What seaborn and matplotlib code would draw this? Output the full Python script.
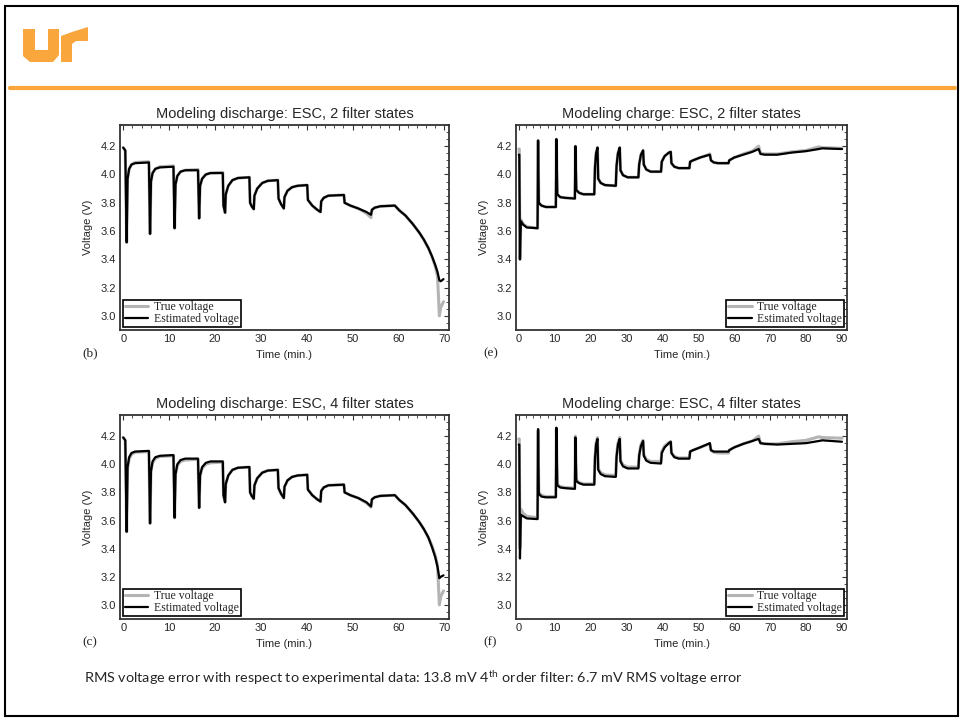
"""ESC cell model: discharge / charge voltage, true vs estimated (slide recreation)"""

import pandas as pd
import seaborn as sns
import matplotlib.pyplot as plt
from matplotlib.patches import Polygon, Rectangle
from matplotlib.lines import Line2D
from matplotlib.ticker import MultipleLocator

# ---- discharge test, panels (b) and (c) ----
dis_time = [0.0, 0.45, 0.75, 0.95, 1.3, 1.8, 2.6, 5.6,
            5.85, 6.05, 6.4, 7.0, 8.0, 10.95,
            11.2, 11.4, 11.8, 12.5, 13.5, 16.3,
            16.55, 16.75, 17.2, 18.0, 19.0, 21.7,
            21.85, 22.2, 22.35, 22.9, 23.8, 25.0, 27.5,
            27.65, 28.0, 28.45, 28.6, 29.2, 30.3, 31.5, 33.7,
            33.85, 34.4, 35.0, 35.15, 35.8, 36.8, 38.0, 40.1,
            40.25, 41.2, 42.3, 43.0, 43.15, 43.7, 44.7, 48.1,
            48.25, 49.5, 51.2, 53.0, 54.0, 54.2, 54.8, 56.0, 59.2,
            60.2, 61.5, 63.1, 64.5, 65.5, 66.5, 67.3, 68.0, 68.5,
            68.9, 69.2, 69.8]
dis_true = [4.19, 4.17, 3.52, 3.97, 4.04, 4.07, 4.085, 4.09,
            3.58, 3.95, 4.01, 4.04, 4.055, 4.06,
            3.62, 3.93, 3.99, 4.02, 4.03, 4.035,
            3.69, 3.92, 3.97, 4.00, 4.01, 4.015,
            3.78, 3.73, 3.86, 3.92, 3.96, 3.975, 3.98,
            3.80, 3.775, 3.755, 3.85, 3.90, 3.94, 3.955, 3.96,
            3.83, 3.79, 3.76, 3.84, 3.885, 3.91, 3.92, 3.925,
            3.82, 3.78, 3.75, 3.735, 3.81, 3.835, 3.85, 3.855,
            3.80, 3.78, 3.76, 3.725, 3.695, 3.75, 3.765, 3.775, 3.78,
            3.745, 3.71, 3.65, 3.59, 3.54, 3.48, 3.42, 3.35, 3.28,
            3.00, 3.06, 3.10]
dis_est2 = [4.19, 4.17, 3.52, 3.97, 4.04, 4.07, 4.08, 4.085,
            3.58, 3.95, 4.01, 4.04, 4.05, 4.055,
            3.62, 3.93, 3.99, 4.02, 4.03, 4.03,
            3.69, 3.92, 3.97, 4.00, 4.01, 4.01,
            3.78, 3.73, 3.86, 3.92, 3.96, 3.975, 3.98,
            3.80, 3.775, 3.755, 3.85, 3.90, 3.94, 3.955, 3.96,
            3.83, 3.79, 3.76, 3.84, 3.885, 3.91, 3.92, 3.925,
            3.82, 3.78, 3.75, 3.735, 3.81, 3.835, 3.85, 3.855,
            3.80, 3.78, 3.76, 3.735, 3.715, 3.75, 3.765, 3.775, 3.78,
            3.745, 3.71, 3.65, 3.59, 3.54, 3.48, 3.42, 3.36, 3.31,
            3.25, 3.245, 3.26]
dis_est4 = [4.19, 4.17, 3.52, 3.98, 4.05, 4.08, 4.09, 4.095,
            3.58, 3.95, 4.02, 4.05, 4.06, 4.065,
            3.62, 3.93, 4.00, 4.03, 4.04, 4.04,
            3.69, 3.92, 3.98, 4.01, 4.02, 4.02,
            3.78, 3.73, 3.86, 3.92, 3.96, 3.975, 3.98,
            3.80, 3.775, 3.755, 3.85, 3.90, 3.94, 3.955, 3.96,
            3.83, 3.79, 3.76, 3.84, 3.885, 3.91, 3.92, 3.925,
            3.82, 3.78, 3.75, 3.735, 3.81, 3.835, 3.85, 3.855,
            3.80, 3.78, 3.76, 3.73, 3.70, 3.75, 3.765, 3.775, 3.78,
            3.745, 3.71, 3.65, 3.59, 3.54, 3.48, 3.41, 3.34, 3.27,
            3.19, 3.20, 3.21]

# ---- charge test, panels (e) and (f) ----
chg_time = [0.0, 0.12, 0.3, 0.55, 1.2, 2.2, 5.2,
            5.35, 5.55, 6.3, 7.5, 10.3,
            10.45, 10.7, 11.5, 12.8, 15.6,
            15.75, 16.0, 16.8, 18.0, 21.0,
            21.2, 21.5, 21.9, 22.1, 22.8, 24.0, 27.0,
            27.2, 27.6, 28.1, 28.3, 29.0, 30.3, 33.3,
            33.5, 34.0, 34.6, 34.8, 35.5, 36.7, 39.6,
            39.8, 40.6, 41.8, 42.3, 42.5, 43.3, 44.5, 47.5,
            47.7, 48.5, 50.5, 53.2, 53.5, 54.3, 55.5, 58.4,
            58.6, 60.0, 62.5, 65.0, 66.8, 67.3, 68.5, 72.0,
            76.0, 80.0, 83.5, 84.5, 90.0]
chg_true = [4.18, 4.18, 3.40, 3.68, 3.65, 3.63, 3.62,
            4.24, 3.80, 3.78, 3.77, 3.77,
            4.25, 3.86, 3.84, 3.835, 3.83,
            4.20, 3.89, 3.87, 3.86, 3.86,
            4.05, 4.15, 4.19, 3.97, 3.94, 3.925, 3.92,
            4.06, 4.15, 4.19, 4.03, 3.995, 3.98, 3.98,
            4.07, 4.14, 4.17, 4.07, 4.035, 4.02, 4.02,
            4.09, 4.13, 4.155, 4.16, 4.08, 4.055, 4.045, 4.045,
            4.09, 4.10, 4.12, 4.145, 4.10, 4.085, 4.08, 4.08,
            4.10, 4.12, 4.145, 4.165, 4.20, 4.15, 4.145, 4.145,
            4.16, 4.17, 4.195, 4.19, 4.185]
chg_est2 = [4.14, 4.14, 3.40, 3.67, 3.645, 3.625, 3.62,
            4.24, 3.80, 3.78, 3.77, 3.77,
            4.25, 3.86, 3.84, 3.835, 3.83,
            4.20, 3.89, 3.87, 3.86, 3.86,
            4.05, 4.15, 4.19, 3.97, 3.94, 3.925, 3.92,
            4.06, 4.15, 4.19, 4.03, 3.995, 3.98, 3.98,
            4.07, 4.14, 4.17, 4.07, 4.035, 4.02, 4.02,
            4.09, 4.13, 4.155, 4.16, 4.08, 4.055, 4.045, 4.045,
            4.09, 4.10, 4.12, 4.14, 4.10, 4.085, 4.08, 4.08,
            4.10, 4.12, 4.14, 4.16, 4.18, 4.145, 4.14, 4.14,
            4.155, 4.165, 4.18, 4.185, 4.18]
chg_est4 = [4.14, 4.14, 3.33, 3.64, 3.63, 3.615, 3.61,
            4.25, 3.79, 3.77, 3.765, 3.765,
            4.26, 3.85, 3.835, 3.83, 3.825,
            4.19, 3.88, 3.865, 3.855, 3.855,
            4.04, 4.14, 4.18, 3.96, 3.93, 3.915, 3.91,
            4.05, 4.14, 4.18, 4.02, 3.985, 3.97, 3.97,
            4.06, 4.13, 4.165, 4.06, 4.025, 4.01, 4.005,
            4.08, 4.12, 4.15, 4.16, 4.08, 4.05, 4.04, 4.04,
            4.09, 4.10, 4.12, 4.15, 4.10, 4.09, 4.09, 4.09,
            4.10, 4.12, 4.145, 4.165, 4.18, 4.15, 4.145, 4.14,
            4.145, 4.15, 4.165, 4.17, 4.16]

titles = ["Modeling discharge: ESC, 2 filter states",
          "Modeling charge: ESC, 2 filter states",
          "Modeling discharge: ESC, 4 filter states",
          "Modeling charge: ESC, 4 filter states"]
panel_tags = ["(b)", "(e)", "(c)", "(f)"]
dis_xticks = [0, 10, 20, 30, 40, 50, 60, 70]
chg_xticks = [0, 10, 20, 30, 40, 50, 60, 70, 80, 90]
volt_ticks = [3.0, 3.2, 3.4, 3.6, 3.8, 4.0, 4.2]
caption = (r"RMS voltage error with respect to experimental data: 13.8 mV "
           r"4$^{\mathrm{th}}$ order filter: 6.7 mV RMS voltage error")

W, H = 964, 721
ORANGE = "#f9a63c"


def px(x, y):
    return x / W, 1 - y / H


sns.set_theme(style="white")
plt.rcParams["font.family"] = ["Liberation Sans", "DejaVu Sans"]
plt.rcParams["mathtext.fontset"] = "custom"
plt.rcParams["mathtext.rm"] = "Lato"

fig = plt.figure(figsize=(W / 100, H / 100), dpi=100)
fig.patch.set_facecolor("white")

# axes boxes in pixels: left, top, right, bottom
boxes = [(120, 125, 449, 330), (516, 125, 847, 330),
         (120, 415, 449, 619), (516, 415, 847, 619)]
panels = [
    (dis_time, dis_true, dis_est2, dis_xticks, (-0.7, 71), "lower left"),
    (chg_time, chg_true, chg_est2, chg_xticks, (-0.8, 91.4), "lower right"),
    (dis_time, dis_true, dis_est4, dis_xticks, (-0.7, 71), "lower left"),
    (chg_time, chg_true, chg_est4, chg_xticks, (-0.8, 91.4), "lower right"),
]

for i, (t, v_true, v_est, xt, xl, loc) in enumerate(panels):
    l, tp, r, b = boxes[i]
    ax = fig.add_axes([l / W, 1 - b / H, (r - l) / W, (b - tp) / H])
    df = pd.DataFrame({"time": t, "true": v_true, "est": v_est})

    sns.lineplot(data=df, x="time", y="true", color="#b4b4b4", lw=2.2,
                 estimator=None, sort=False, label="True voltage", ax=ax)
    sns.lineplot(data=df, x="time", y="est", color="black", lw=1.6,
                 estimator=None, sort=False, label="Estimated voltage", ax=ax)

    ax.set_xlim(*xl)
    ax.set_ylim(2.9, 4.35)
    ax.set_xticks(xt)
    ax.set_yticks(volt_ticks)
    ax.set_yticklabels([f"{v:.1f}" for v in volt_ticks])
    ax.xaxis.set_minor_locator(MultipleLocator(2))
    ax.yaxis.set_minor_locator(MultipleLocator(0.05))
    ax.tick_params(which="both", direction="in", top=True, right=True,
                   color="#333333", labelsize=8, pad=3)
    ax.tick_params(which="major", length=3.5, width=0.8)
    ax.tick_params(which="minor", length=2, width=0.6)
    for sp in ax.spines.values():
        sp.set_color("#333333")
        sp.set_linewidth(1.3)

    ax.set_title(titles[i], fontsize=10.5, pad=5)
    ax.set_xlabel("Time (min.)", fontsize=8, labelpad=4)
    ax.set_ylabel("Voltage (V)", fontsize=8, labelpad=5)

    leg = ax.legend(loc=loc, prop={"family": "Liberation Serif", "size": 8.5},
                    frameon=True, fancybox=False, edgecolor="black",
                    framealpha=1, handlelength=2.0, handletextpad=0.5,
                    labelspacing=0.0, borderpad=0.15, borderaxespad=0.25)
    leg.get_frame().set_linewidth(1.2)

    tx = l - 38 if i % 2 == 0 else l - 33
    fig.text(*px(tx, b + 23), panel_tags[i], family="Liberation Serif",
             fontsize=9.5, va="center", ha="left")

# slide decoration: border, logo, orange rule
fig.add_artist(Rectangle(px(5, 716), 953 / W, 710 / H, fill=False,
                         ec="black", lw=1.5, transform=fig.transFigure))
u_shape = [(23, 29), (35, 29), (35, 50), (48, 50), (48, 29), (59, 29),
           (59, 55), (53, 62), (30, 62), (23, 56)]
t_shape = [(61, 36), (72, 32), (88, 27), (88, 41), (76, 41), (72, 44),
           (72, 62), (61, 62)]
for shape in (u_shape, t_shape):
    fig.add_artist(Polygon([px(x, y) for x, y in shape], closed=True,
                           fc=ORANGE, ec="none", transform=fig.transFigure))
fig.add_artist(Line2D([10 / W, 955 / W], [1 - 87.5 / H] * 2, color=ORANGE,
                      lw=3, transform=fig.transFigure))

fig.text(*px(84, 678), caption, family="Lato", fontsize=10.4, va="center",
         ha="left")

fig.savefig("out.png", dpi=100)
